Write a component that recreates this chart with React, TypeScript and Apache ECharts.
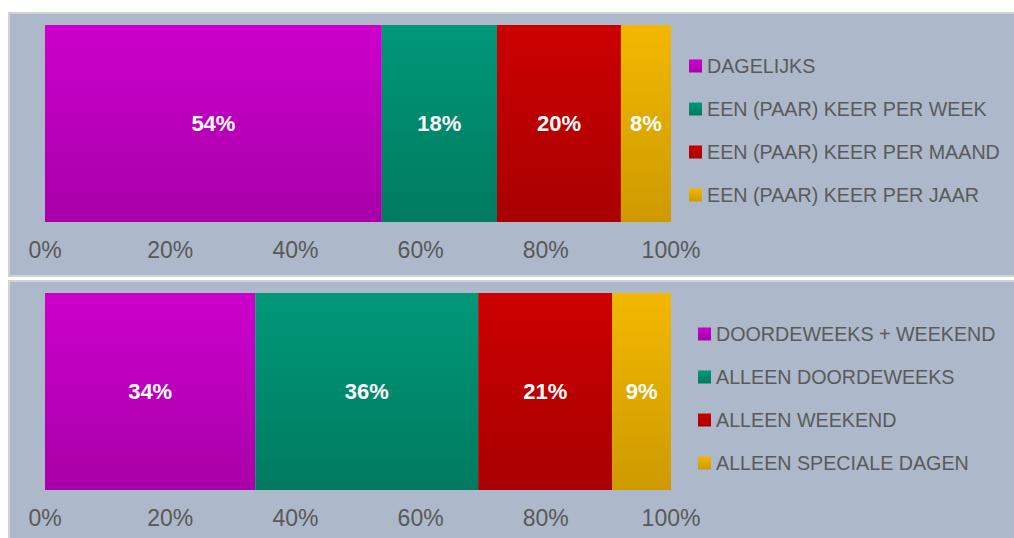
import React, { useEffect, useRef } from "react";
import * as echarts from "echarts";

const category = ["Frequentie"];
const namesTop = ["DAGELIJKS", "EEN (PAAR) KEER PER WEEK", "EEN (PAAR) KEER PER MAAND", "EEN (PAAR) KEER PER JAAR"];
const valuesTop = [53.8, 18.4, 19.8, 8.0];
const namesBottom = ["DOORDEWEEKS + WEEKEND", "ALLEEN DOORDEWEEKS", "ALLEEN WEEKEND", "ALLEEN SPECIALE DAGEN"];
const valuesBottom = [33.6, 35.6, 21.4, 9.4];
const xTicks = [0, 20, 40, 60, 80, 100];

const colorPairs = [
  ["#CC00CC", "#A800A8"],
  ["#009879", "#007A60"],
  ["#CC0000", "#A80000"],
  ["#F2B800", "#CE9A00"],
];

const grad = (i: number) =>
  new echarts.graphic.LinearGradient(0, 0, 0, 1, [
    { offset: 0, color: colorPairs[i][0] },
    { offset: 1, color: colorPairs[i][1] },
  ]);

export default function App() {
  const ref = useRef<HTMLDivElement>(null);
  useEffect(() => {
    if (!ref.current) return;
    const chart = echarts.init(ref.current, null, { renderer: "svg" });
    const makeSeries = (names: string[], vals: number[], idx: number) =>
      names.map((n, i) => ({
        name: n,
        type: "bar",
        stack: "s" + idx,
        xAxisIndex: idx,
        yAxisIndex: idx,
        barWidth: "100%",
        data: [vals[i]],
        itemStyle: { color: grad(i) },
        label: {
          show: true,
          position: "inside",
          color: "#FFFFFF",
          fontWeight: "bold",
          fontSize: 22,
          fontFamily: "Liberation Sans, Arial, sans-serif",
          formatter: (p: any) => Math.round(p.value) + "%",
        },
      }));
    const xAxisBase = (g: number) => ({
      type: "value",
      gridIndex: g,
      min: 0,
      max: 100,
      interval: 20,
      axisLine: { show: false },
      axisTick: { show: false },
      splitLine: { show: false },
      axisLabel: {
        color: "#595959",
        fontSize: 23,
        margin: 16,
        fontFamily: "Liberation Sans, Arial, sans-serif",
        formatter: (v: number) => (xTicks.includes(v) ? v + "%" : ""),
      },
    });
    const yAxisBase = (g: number) => ({
      type: "category",
      gridIndex: g,
      data: category,
      axisLine: { show: false },
      axisTick: { show: false },
      axisLabel: { show: false },
      splitLine: { show: false },
    });
    const legendBase = {
      orient: "vertical",
      icon: "rect",
      itemWidth: 13,
      itemHeight: 13,
      itemGap: 23,
      padding: 0,
      textStyle: {
        color: "#5A5A5A",
        fontSize: 19.7,
        fontFamily: "Liberation Sans, Arial, sans-serif",
      },
    };
    chart.setOption({
      animation: false,
      backgroundColor: "#FFFFFF",
      graphic: [
        {
          type: "rect",
          z: -10,
          shape: { x: 9, y: 13, width: 1010, height: 263 },
          style: { fill: "#ADB8CA", stroke: "#D2D2D2", lineWidth: 2 },
        },
        {
          type: "rect",
          z: -10,
          shape: { x: 9, y: 281, width: 1010, height: 262 },
          style: { fill: "#ADB8CA", stroke: "#D2D2D2", lineWidth: 2 },
        },
      ],
      grid: [
        { left: 45, width: 626, top: 25, height: 197 },
        { left: 45, width: 626, top: 293, height: 197 },
      ],
      xAxis: [xAxisBase(0), xAxisBase(1)],
      yAxis: [yAxisBase(0), yAxisBase(1)],
      legend: [
        { ...legendBase, left: 689, top: 56, data: namesTop },
        { ...legendBase, left: 698, top: 324, data: namesBottom },
      ],
      series: [...makeSeries(namesTop, valuesTop, 0), ...makeSeries(namesBottom, valuesBottom, 1)],
    });
    return () => chart.dispose();
  }, []);
  return (
    <div
      ref={ref}
      style={{ position: "fixed", left: 0, top: 0, width: 1014, height: 538 }}
    />
  );
}
